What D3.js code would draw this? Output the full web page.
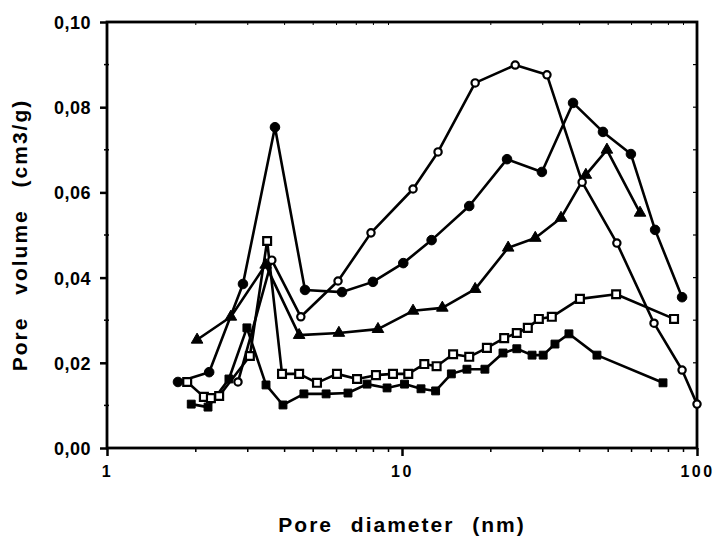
<!DOCTYPE html>
<html>
<head>
<meta charset="utf-8">
<script src="https://cdn.jsdelivr.net/npm/d3@7"></script>
<style>
  body { margin: 0; background: #fff; }
  text { font-family: "Liberation Sans", Arial, sans-serif; font-weight: bold; fill: #000; }
  .axis path, .axis line { stroke: #000; }
  .series { fill: none; stroke: #000; stroke-width: 2.6; stroke-linejoin: round; }
</style>
</head>
<body>
<div id="chart"></div>
<script>
// pore diameter (nm) / pore volume (cm3/g)
var filledCircleX = [1.74, 2.22, 2.89, 3.71, 4.69, 6.26, 7.97, 10.1, 12.6, 16.9, 22.7, 29.8, 38.0, 48.0, 59.7, 72.1, 89.0];
var filledCircleY = [0.0155, 0.0178, 0.0385, 0.0753, 0.0371, 0.0366, 0.0390, 0.0434, 0.0488, 0.0568, 0.0678, 0.0648, 0.0810, 0.0742, 0.0690, 0.0512, 0.0354];

var openCircleX = [2.78, 3.62, 4.54, 6.07, 7.85, 10.9, 13.25, 17.7, 24.2, 31.0, 40.8, 53.5, 71.5, 89.0, 100];
var openCircleY = [0.0155, 0.0441, 0.0308, 0.0392, 0.0505, 0.0608, 0.0695, 0.0857, 0.0899, 0.0876, 0.0624, 0.0481, 0.0293, 0.0183, 0.0103];

var triangleX = [2.02, 2.63, 3.45, 4.48, 6.11, 8.29, 10.9, 13.7, 17.7, 22.9, 28.3, 34.6, 42.0, 49.5, 64.1];
var triangleY = [0.0254, 0.0308, 0.0430, 0.0265, 0.0270, 0.0279, 0.0322, 0.0329, 0.0373, 0.0470, 0.0493, 0.0540, 0.0641, 0.0700, 0.0552];

var openSquareX = [1.87, 2.13, 2.25, 2.40, 3.05, 3.49, 3.92, 4.48, 5.15, 6.02, 7.04, 8.16, 9.32, 10.5, 11.9, 13.1, 14.9, 16.9, 19.4, 22.2, 24.5, 26.7, 29.1, 32.2, 40.1, 53.2, 83.6];
var openSquareY = [0.0155, 0.0120, 0.0117, 0.0122, 0.0216, 0.0486, 0.0174, 0.0174, 0.0153, 0.0174, 0.0162, 0.0171, 0.0174, 0.0174, 0.0197, 0.0192, 0.0220, 0.0214, 0.0235, 0.0258, 0.0270, 0.0282, 0.0303, 0.0308, 0.0350, 0.0361, 0.0303];

var filledSquareX = [1.93, 2.20, 2.59, 2.98, 3.46, 3.95, 4.65, 5.53, 6.56, 7.61, 8.9, 10.2, 11.6, 13.0, 14.7, 16.6, 19.1, 22.0, 24.5, 27.6, 30.1, 33.0, 36.8, 45.8, 76.7];
var filledSquareY = [0.0103, 0.0096, 0.0162, 0.0282, 0.0148, 0.0101, 0.0127, 0.0127, 0.0129, 0.0150, 0.0141, 0.0150, 0.0139, 0.0134, 0.0174, 0.0185, 0.0185, 0.0223, 0.0233, 0.0218, 0.0218, 0.0244, 0.0268, 0.0218, 0.0153];

var yTicks = [0, 0.02, 0.04, 0.06, 0.08, 0.10];
var xTicks = [1, 10, 100];

var margin = {top: 22, right: 17, bottom: 88, left: 107},
    w = 714 - margin.left - margin.right,
    h = 536 - margin.top - margin.bottom;

var x = d3.scaleLog().domain([1, 100]).range([0, w]),
    y = d3.scaleLinear().domain([0, 0.10]).range([h, 0]);

var svg = d3.select("#chart").append("svg")
    .attr("width", 714)
    .attr("height", 536)
    .append("g")
    .attr("transform", "translate(" + margin.left + "," + margin.top + ")");

var fmt = function(d) { return d3.format(".2f")(d).replace(".", ","); };

// minor ticks
var minorX = [];
[1, 10].forEach(function(dec) { for (var k = 2; k <= 9; k++) minorX.push(dec * k); });
var minorY = d3.range(0.01, 0.1, 0.02);

svg.append("g").selectAll("line.mx").data(minorX).enter().append("line")
    .attr("x1", function(d) { return x(d); }).attr("x2", function(d) { return x(d); })
    .attr("y1", h).attr("y2", h + 4)
    .attr("stroke", "#000").attr("stroke-width", 1.5);
svg.append("g").selectAll("line.mxt").data(minorX).enter().append("line")
    .attr("x1", function(d) { return x(d); }).attr("x2", function(d) { return x(d); })
    .attr("y1", 0).attr("y2", 3)
    .attr("stroke", "#000").attr("stroke-width", 1);
svg.append("g").selectAll("line.my").data(minorY).enter().append("line")
    .attr("x1", -3).attr("x2", 2)
    .attr("y1", function(d) { return y(d); }).attr("y2", function(d) { return y(d); })
    .attr("stroke", "#000").attr("stroke-width", 1.5);
svg.append("g").selectAll("line.myr").data(d3.range(0.01, 0.1, 0.01)).enter().append("line")
    .attr("x1", w - 4).attr("x2", w)
    .attr("y1", function(d) { return y(d); }).attr("y2", function(d) { return y(d); })
    .attr("stroke", "#000").attr("stroke-width", 1.2);

var xAxis = d3.axisBottom(x).tickValues(xTicks).tickFormat(d3.format("d")).tickSize(8).tickPadding(10),
    yAxis = d3.axisLeft(y).tickValues(yTicks).tickFormat(fmt).tickSize(7).tickPadding(9);

var gx = svg.append("g")
    .attr("class", "x axis")
    .attr("transform", "translate(0," + h + ")")
    .call(xAxis);
gx.select(".domain").remove();
gx.selectAll("line").attr("stroke-width", 2.5);
gx.selectAll("text").attr("font-size", 16).style("letter-spacing", "2.5px");

var gy = svg.append("g")
    .attr("class", "y axis")
    .call(yAxis);
gy.select(".domain").remove();
gy.selectAll("line").attr("stroke-width", 2.5);
gy.selectAll("text").attr("font-size", 18).attr("dy", "0.36em").style("letter-spacing", "0.5px");

// frame
svg.append("rect")
    .attr("x", 0).attr("y", 0).attr("width", w).attr("height", h)
    .attr("fill", "none").attr("stroke", "#000").attr("stroke-width", 2.8);

var line = d3.line()
    .x(function(d) { return x(d[0]); })
    .y(function(d) { return y(d[1]); });

var series = [
    {xs: filledCircleX, ys: filledCircleY, shape: "circle", fill: "#000"},
    {xs: openCircleX, ys: openCircleY, shape: "circle", fill: "#fff"},
    {xs: triangleX, ys: triangleY, shape: "triangle", fill: "#000"},
    {xs: openSquareX, ys: openSquareY, shape: "square", fill: "#fff"},
    {xs: filledSquareX, ys: filledSquareY, shape: "square", fill: "#000"}
];

series.forEach(function(s) {
    var pts = s.xs.map(function(v, i) { return [v, s.ys[i]]; });
    svg.append("path")
       .datum(pts)
       .attr("class", "series")
       .attr("d", line);
});

var symbols = {
    circleFilled: d3.symbol().type(d3.symbolCircle).size(72),
    circleOpen: d3.symbol().type(d3.symbolCircle).size(42),
    triangle: d3.symbol().type(d3.symbolTriangle).size(58),
    square: d3.symbol().type(d3.symbolSquare).size(62)
};

series.forEach(function(s) {
    var pts = s.xs.map(function(v, i) { return [v, s.ys[i]]; });
    var sym = s.shape === "circle" ? (s.fill === "#fff" ? symbols.circleOpen : symbols.circleFilled) : symbols[s.shape];
    svg.append("g").selectAll("path").data(pts).enter().append("path")
       .attr("d", sym)
       .attr("transform", function(d) { return "translate(" + x(d[0]) + "," + y(d[1]) + ")"; })
       .attr("fill", s.fill)
       .attr("stroke", "#000")
       .attr("stroke-width", s.fill === "#fff" ? 2.2 : 1);
});

svg.append("text")
   .attr("x", w / 2)
   .attr("y", h + 84)
   .attr("text-anchor", "middle")
   .style("font-size", "21px")
   .style("letter-spacing", "2px")
   .style("word-spacing", "10px")
   .text("Pore diameter (nm)");

svg.append("text")
   .attr("transform", "translate(" + (-80) + "," + (h / 2) + ") rotate(-90)")
   .attr("text-anchor", "middle")
   .style("font-size", "21px")
   .style("letter-spacing", "2px")
   .style("word-spacing", "14px")
   .text("Pore volume (cm3/g)");
</script>
</body>
</html>
